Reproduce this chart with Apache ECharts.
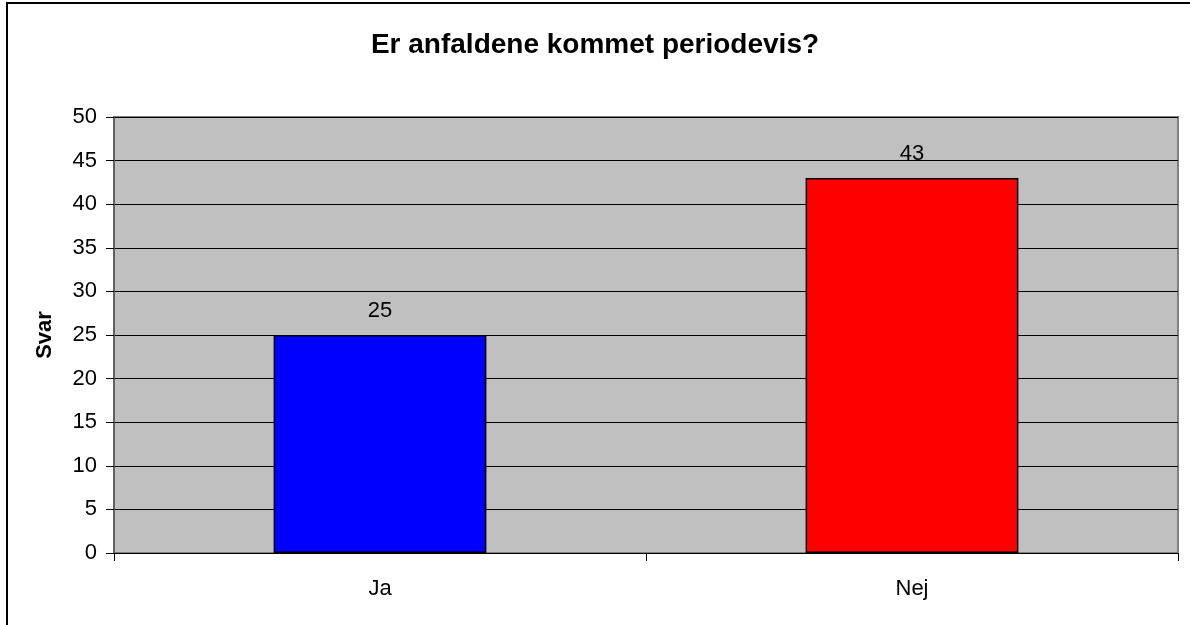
<!DOCTYPE html>
<html>
<head>
<meta charset="utf-8">
<script src="https://cdn.jsdelivr.net/npm/echarts@6/dist/echarts.min.js"></script>
<style>
  html, body { margin: 0; padding: 0; background: #fff; }
  #chart { width: 1190px; height: 625px; }
</style>
</head>
<body>
<div id="chart"></div>
<script>
// data
var categories = ['Ja', 'Nej'];
var answers = [25, 43];
var barColors = ['#0000ff', '#ff0000'];
var chartTitle = 'Er anfaldene kommet periodevis?';
var yName = 'Svar';

var chart = echarts.init(document.getElementById('chart'));
var option = {
    backgroundColor: '#fff',
    animation: false,
    textStyle: { fontFamily: 'Liberation Sans, Arial, sans-serif' },
    title: {
        text: chartTitle,
        left: 'center',
        top: 26,
        textStyle: { fontSize: 28, fontWeight: 'bold', color: '#000' }
    },
    graphic: [{
        type: 'rect',
        shape: { x: 7, y: 3, width: 1300, height: 700 },
        style: { fill: 'none', stroke: '#000', lineWidth: 2 },
        silent: true
    }],
    grid: {
        left: 114,
        right: 12,
        top: 117,
        bottom: 72,
        show: true,
        backgroundColor: '#c0c0c0',
        borderColor: '#808080',
        borderWidth: 2
    },
    xAxis: {
        type: 'category',
        data: categories,
        axisLine: { lineStyle: { color: '#000', width: 1 } },
        axisTick: { show: true, length: 8, lineStyle: { color: '#000' } },
        axisLabel: { color: '#000', fontSize: 22, margin: 25 }
    },
    yAxis: {
        type: 'value',
        min: 0,
        max: 50,
        interval: 5,
        name: yName,
        nameLocation: 'middle',
        nameGap: 58,
        nameTextStyle: { fontSize: 22, fontWeight: 'bold', color: '#000' },
        axisLine: { show: true, lineStyle: { color: '#606060', width: 2 } },
        axisTick: { show: true, length: 8, lineStyle: { color: '#000' } },
        axisLabel: { color: '#000', fontSize: 22, margin: 17 },
        splitLine: { show: true, lineStyle: { color: '#000', width: 1 } }
    },
    series: [{
        type: 'bar',
        data: answers.map(function (v, i) {
            return { value: v, itemStyle: { color: barColors[i] } };
        }),
        barWidth: '40%',
        itemStyle: { borderColor: '#000', borderWidth: 1.5 },
        label: {
            show: true,
            position: 'top',
            distance: 13,
            color: '#000',
            fontSize: 22
        }
    }]
};
chart.setOption(option);
</script>
</body>
</html>
